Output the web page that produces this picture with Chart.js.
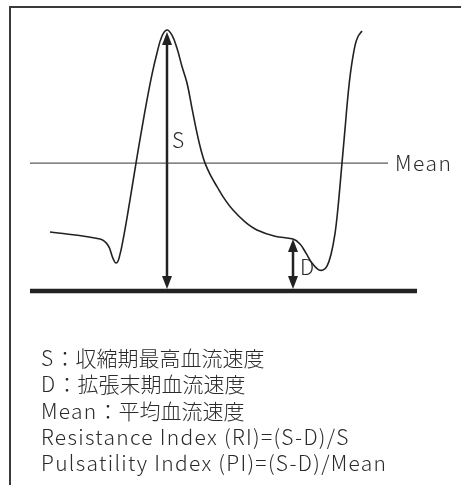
<!DOCTYPE html>
<html>
<head>
<meta charset="utf-8">
<script src="https://cdn.jsdelivr.net/npm/chart.js@4.4.1/dist/chart.umd.min.js"></script>
<style>
  html, body { margin: 0; padding: 0; background: #fff; }
  #wrap { position: relative; width: 461px; height: 485px; overflow: hidden; }
  #frame {
    position: absolute; left: 9px; top: 6px; right: -10px; bottom: -10px;
    border-top: 2px solid #3a3a3a; border-left: 2px solid #3a3a3a;
  }
  #chart { position: absolute; left: 0; top: 0; }
  #notes {
    position: absolute; left: 41px; top: 344px;
    font-family: "Noto Sans CJK JP", "Noto Sans", sans-serif;
    font-weight: 300;
    font-size: 21px; line-height: 26.3px; color: #2a2a2a;
    white-space: nowrap;
  }
  #notes .lat { letter-spacing: 1.3px; }
</style>
</head>
<body>
<div id="wrap">
  <div id="frame"></div>
  <canvas id="chart" width="461" height="485"></canvas>
  <div id="notes">
    <div><span class="lat">S</span>：収縮期最高血流速度</div>
    <div><span class="lat">D</span>：拡張末期血流速度</div>
    <div><span class="lat">Mean</span>：平均血流速度</div>
    <div class="lat">Resistance Index (RI)=(S-D)/S</div>
    <div class="lat">Pulsatility Index (PI)=(S-D)/Mean</div>
  </div>
</div>
<script>
/* ================= DATA ================= */

// one cardiac cycle, time (arbitrary units) vs flow velocity (peak = 100)
const timePts = [50, 100, 108, 113, 116, 119, 124, 130, 136, 142, 147, 152, 157, 162, 167, 172, 177, 182, 187, 192, 197, 201, 205, 211, 217, 225, 233, 245, 257, 275, 293, 300, 306, 312, 318, 323, 327, 331, 335, 338, 342, 345, 348, 351, 355, 358, 362];
const velocity = [22.6, 19.9, 17.5, 12.5, 10.7, 12.5, 21.5, 34.9, 49, 62.5, 73.2, 83, 91.2, 97.7, 100, 98, 93, 86, 79.7, 70, 60.5, 54, 49, 44, 40, 35, 31, 26.5, 23.4, 21, 19.9, 18, 14.5, 10.7, 8.3, 8, 9.5, 14, 22, 32, 49, 62, 75, 85, 94, 97.5, 99.6];

const peakS = 100;     // systolic peak
const endD = 19.5;     // end diastolic
const meanV = 49;      // mean velocity
const sTime = 167;
const dTime = 293;

/* ================= CHART ================= */

const ink = '#222';

// arrow heads + letters, drawn on top of the datasets
const marks = {
  id: 'marks',
  afterDatasetsDraw(chart) {
    const { ctx, scales: { x, y } } = chart;

    function head(px, py, dir) {
      ctx.beginPath();
      ctx.moveTo(px, py);
      ctx.lineTo(px - 5, py + dir * 13);
      ctx.lineTo(px + 5, py + dir * 13);
      ctx.closePath();
      ctx.fill();
    }

    ctx.save();
    ctx.fillStyle = ink;
    head(x.getPixelForValue(sTime), y.getPixelForValue(peakS) + 2, 1);
    head(x.getPixelForValue(sTime), y.getPixelForValue(0) - 2, -1);
    head(x.getPixelForValue(dTime), y.getPixelForValue(endD) - 1, 1);
    head(x.getPixelForValue(dTime), y.getPixelForValue(0) - 2, -1);

    ctx.font = '300 21px "Noto Sans CJK JP", "Noto Sans", sans-serif';
    ctx.letterSpacing = '1.5px';
    ctx.fillStyle = '#2a2a2a';
    ctx.textBaseline = 'middle';
    ctx.fillText('S', x.getPixelForValue(sTime) + 5, y.getPixelForValue(58));
    ctx.fillText('D', x.getPixelForValue(dTime) + 7, y.getPixelForValue(9));
    ctx.fillText('Mean', x.getPixelForValue(395), y.getPixelForValue(meanV));
    ctx.restore();
  }
};

const pairs = (xs, ys) => xs.map((v, i) => ({ x: v, y: ys[i] }));

new Chart(document.getElementById('chart'), {
  type: 'line',
  data: {
    datasets: [
      {
        label: 'waveform',
        data: pairs(timePts, velocity),
        borderColor: ink,
        borderWidth: 1.6,
        pointRadius: 0,
        tension: 0.4
      },
      {
        label: 'Mean',
        data: [{ x: 30, y: meanV }, { x: 388, y: meanV }],
        borderColor: '#333',
        borderWidth: 1,
        pointRadius: 0
      },
      {
        label: 'baseline',
        data: [{ x: 30, y: 0 }, { x: 417, y: 0 }],
        borderColor: ink,
        borderWidth: 4.5,
        pointRadius: 0
      },
      {
        label: 'S',
        data: [{ x: sTime, y: 3 }, { x: sTime, y: peakS - 4 }],
        borderColor: ink,
        borderWidth: 2.5,
        pointRadius: 0
      },
      {
        label: 'D',
        data: [{ x: dTime, y: 3 }, { x: dTime, y: endD - 3 }],
        borderColor: ink,
        borderWidth: 2.5,
        pointRadius: 0
      }
    ]
  },
  options: {
    responsive: false,
    animation: false,
    layout: { padding: 0 },
    plugins: { legend: { display: false }, tooltip: { enabled: false } },
    scales: {
      x: { type: 'linear', min: 0, max: 461, display: false },
      y: { type: 'linear', min: -74.33, max: 111.49, display: false }
    }
  },
  plugins: [marks]
});
</script>
</body>
</html>
